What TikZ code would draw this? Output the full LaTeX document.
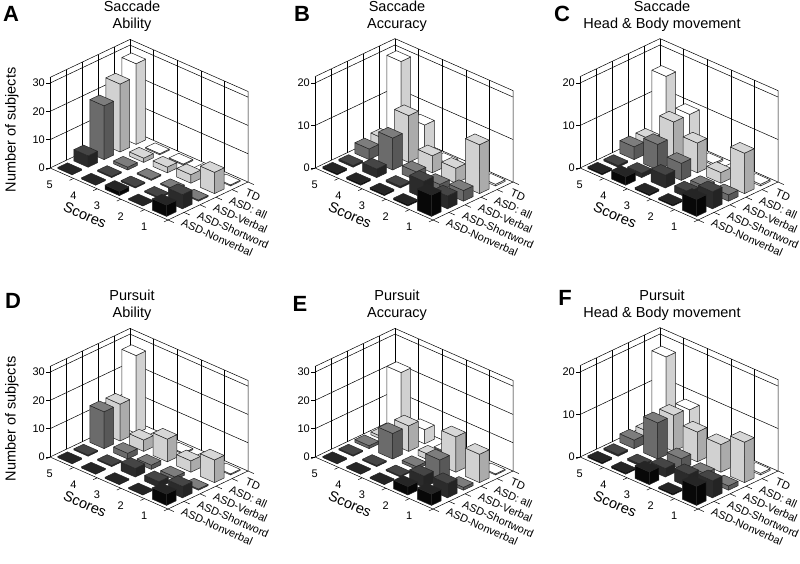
\documentclass[tikz,border=0pt]{standalone}
\usepackage{fontspec}
\setmainfont{Liberation Sans}
\definecolor{rowc4}{gray}{1}
\definecolor{rowc3}{gray}{0.82}
\definecolor{rowc2}{gray}{0.42}
\definecolor{rowc1}{gray}{0.17}
\definecolor{rowc0}{gray}{0.03}
\tikzset{
 wall/.style={line width=0.5pt,draw=black},
 bareg/.style={line width=0.5pt,draw=black!85,line join=round},
 tick/.style={font=\fontsize{11}{12}\selectfont,inner sep=1pt},
 grp/.style={font=\fontsize{11}{12}\selectfont,inner sep=0pt,anchor=west},
 ttl/.style={font=\fontsize{14.5}{17}\selectfont,align=center},
 letter/.style={font=\fontsize{22}{22}\selectfont\bfseries}
}
\newcommand\dbar[4]{%
 \pgfmathsetmacro\xa{#1+0.2}\pgfmathsetmacro\xb{#1+0.8}%
 \pgfmathsetmacro\ya{#2+0.2}\pgfmathsetmacro\yb{#2+0.8}%
 \filldraw[fill=#4,bareg] (\xa,\ya,0)--(\xb,\ya,0)--(\xb,\ya,#3)--(\xa,\ya,#3)--cycle;
 \filldraw[fill=#4!82!black,bareg] (\xb,\ya,0)--(\xb,\yb,0)--(\xb,\yb,#3)--(\xb,\ya,#3)--cycle;
 \filldraw[fill=#4!88!white,bareg] (\xa,\ya,#3)--(\xb,\ya,#3)--(\xb,\yb,#3)--(\xa,\yb,#3)--cycle;
}
\newcommand\panel[7]{% ox oy scale zmax ticks data title
\begin{scope}[shift={(#1pt,-#2pt)},x={(23.6pt,-10.4pt)},y={(16pt,7.6pt)},z={(0pt,#3pt)}]
 \draw[wall] (0,0,#4)--(0,5,#4)--(5,5,#4)--(5,5,0);
 \draw[wall] (0,0,0)--(0,0,#4);
 \draw[wall] (0,5,0)--(0,5,#4);
 \foreach \q in {1,...,4}{\draw[wall] (0,\q,0)--(0,\q,#4); \draw[wall] (\q,5,0)--(\q,5,#4);}
 \foreach \t in {#5}{\draw[wall] (0,0,\t)--(0,5,\t)--(5,5,\t);
   \draw[wall] (0,0,\t)--++(-4pt,0pt) node[left,tick]{\t};}
 \draw[wall] (0,0,0)--(5,0,0)--(5,5,0);
 \foreach \q in {0,...,5}{\draw[wall] (\q,0,0)--(\q,-0.25,0); \draw[wall] (5,\q,0)--(5.25,\q,0);}
 \foreach \q in {0,...,4}{\pgfmathtruncatemacro\s{5-\q}\node[tick,xshift=-12pt,yshift=-12pt] at (\q+0.5,0,0){\s};}
 \foreach \g [count=\c from 0] in {ASD-Nonverbal,ASD-Shortword,ASD-Verbal,ASD: all,TD}
   {\node[grp,xshift=6pt,yshift=-6pt,rotate=-23.8] at (5,\c+0.5,0){\g};}
 \node[font=\fontsize{14.5}{15}\selectfont,rotate=-23.8] at (35pt,-47pt){Scores};
 \node[ttl] at (82pt,151.5pt){#7};
 \foreach \v [count=\k from 0] in {#6}{%
   \pgfmathtruncatemacro\ii{mod(\k,5)}%
   \pgfmathtruncatemacro\jj{4-int(\k/5)}%
   \pgfmathsetmacro\hh{max(\v,0.4)}%
   \dbar{\ii}{\jj}{\hh}{rowc\jj}}
\end{scope}}
\begin{document}
\begin{tikzpicture}[x=1pt,y=1pt]
\useasboundingbox (0,0) rectangle (800,-564);
\fill[white] (0,0) rectangle (800,-564);
\panel{50}{168}{2.83}{32}{0,10,20,30}{28.5,0,0,0,0, 24,1.5,2,3,7.5, 19,1,0,0,0, 4,0,0,0,5, 0,0,1.5,0,4}{Saccade\\Ability}
\panel{315}{168}{4.25}{21.5}{0,10,20}{19.5,7,0,0,0, 3,11,4,3.5,11.5, 2.5,7.5,2,1.5,2.5, 0,2,0,4,3, 0,0,0,0,5}{Saccade\\Accuracy}
\panel{580}{168}{4.25}{21.5}{0,10,20}{16,9.5,0,0.5,0, 3,9.5,7,2.5,9.5, 3,6,4,1,1.5, 0,1,3,1.5,4, 0,2,0,0,4}{Saccade\\Head \& Body movement}
\panel{50}{457}{2.83}{32}{0,10,20,30}{27.5,0,0,0,0, 13,4,8,4,8, 13,2,1.5,1,0, 0,0,3,2,4, 0,0,0,0,4}{Pursuit\\Ability}
\panel{315}{457}{2.83}{32}{0,10,20,30}{21.5,5,0,0,0, 1,9,2,12.5,10, 1,9,1,7,1, 0,0,0,4,5, 0,0,0,3,4}{Pursuit\\Accuracy}
\panel{580}{457}{4.25}{21.5}{0,10,20}{18,8,0,0,0, 2,8.5,7,6.5,9.5, 2,8.5,2.5,1.5,1, 0,0,2,3,4, 0,0,3,0,4.5}{Pursuit\\Head \& Body movement}
\node[letter] (la) at (11,-14) {A};
\node[letter] (lb) at (302,-14) {B};
\node[letter] (lc) at (562,-14) {C};
\node[letter] (ld) at (13,-301) {D};
\node[letter] (le) at (300,-304) {E};
\node[letter] (lf) at (565,-298) {F};
\node[font=\fontsize{14.5}{15}\selectfont,rotate=90] (ya) at (12,-130) {Number of subjects};
\node[font=\fontsize{14.5}{15}\selectfont,rotate=90] (yd) at (12,-419) {Number of subjects};
\end{tikzpicture}
\end{document}
